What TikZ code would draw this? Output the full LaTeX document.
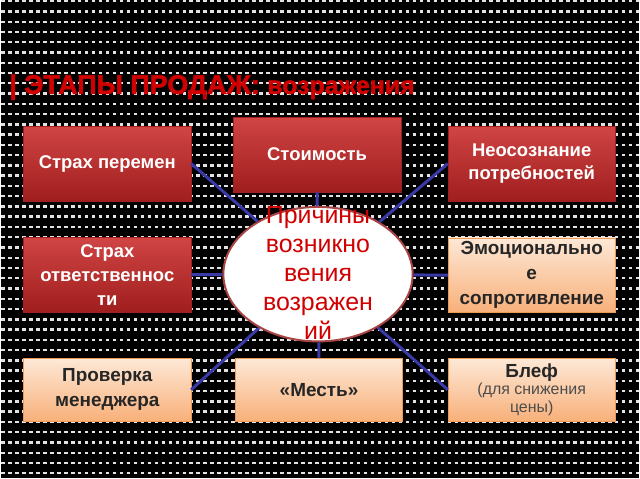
\documentclass[tikz,border=0pt]{standalone}
\usepackage{fontspec}
\setmainfont{Liberation Sans}
\newfontfamily\titlefont[FakeBold=2]{Liberation Sans Bold}
\usetikzlibrary{shapes.geometric}
\definecolor{darkboxtop}{HTML}{D04444}
\definecolor{darkboxbot}{HTML}{A01E1E}
\definecolor{lightboxtop}{HTML}{FDE8D6}
\definecolor{lightboxbot}{HTML}{F8B07A}
\definecolor{lightboxrim}{HTML}{EE9A55}
\definecolor{spoke}{HTML}{3A3AA6}
\definecolor{titlered}{HTML}{D00000}
\definecolor{rimred}{HTML}{A84444}
\definecolor{dashgrey}{HTML}{E2E2E2}
\begin{document}
\begin{tikzpicture}[x=1pt,y=-1pt]
	\tikzstyle{every node}=[inner sep=1pt]
	\tikzstyle{dots}=[dashgrey,line width=2.4pt,dash pattern=on 3.6pt off 3.4pt]
	\tikzstyle{redbox}=[rectangle,minimum width=168pt,minimum height=75pt,
		top color=darkboxtop,bottom color=darkboxbot,draw=darkboxbot,
		text=white,align=center,font=\bfseries\fontsize{18.5}{24}\selectfont]
	\tikzstyle{peachbox}=[rectangle,minimum width=168pt,minimum height=63pt,
		top color=lightboxtop,bottom color=lightboxbot,draw=lightboxrim,
		text=black!85,align=center,font=\bfseries\fontsize{19}{25}\selectfont]
	\tikzstyle{spokeline}=[spoke,line width=3pt]
	% background
	\fill[black] (0,0) rectangle (640,480);
	\foreach \r in {0,...,46}
		\draw[dots] (0,1+10.3*\r) -- (640,1+10.3*\r);
	% title
	\node[anchor=base west,text=titlered,font=\titlefont\fontsize{27}{30}\selectfont,inner sep=0pt]
		(title) at (8,94) {| ЭТАПЫ ПРОДАЖ: {\fontsize{25}{30}\selectfont возражения}};
	% boxes
	\node[redbox] (change) at (106.5,164) {Страх перемен};
	\node[redbox] (cost) at (317,155) {Стоимость};
	\node[redbox] (needs) at (532.5,164) {Неосознание\\потребностей};
	\node[redbox] (duty) at (106.5,275.5) {Страх\\ответственнос\\ти};
	\node[peachbox,minimum height=75pt] (emotion) at (532.5,276)
		{Эмоционально\\е\\сопротивление};
	\node[peachbox] (check) at (106.5,391) {Проверка\\менеджера};
	\node[peachbox] (revenge) at (319,391) {«Месть»};
	\node[peachbox,font=\fontsize{16}{18}\selectfont] (bluff) at (532.5,391)
		{{\bfseries\fontsize{19}{18}\selectfont Блеф}\\
		{\color{black!70}(для снижения}\\
		{\color{black!70}цены)}};
	% centre
	\node[ellipse,draw=rimred,line width=2pt,fill=white,
		minimum width=190pt,minimum height=135pt] (reasons) at (318,275) {};
	\foreach \b/\a in {change/east,cost/south,needs/west,duty/east,
		emotion/west,check/east,revenge/north,bluff/west}
		\draw[spokeline] (reasons) -- (\b.\a);
	\node[text=titlered,align=center,font=\fontsize{25}{29}\selectfont]
		(reasonstext) at (318,274) {Причины\\возникно\\вения\\возражен\\ий};
\end{tikzpicture}
\end{document}
